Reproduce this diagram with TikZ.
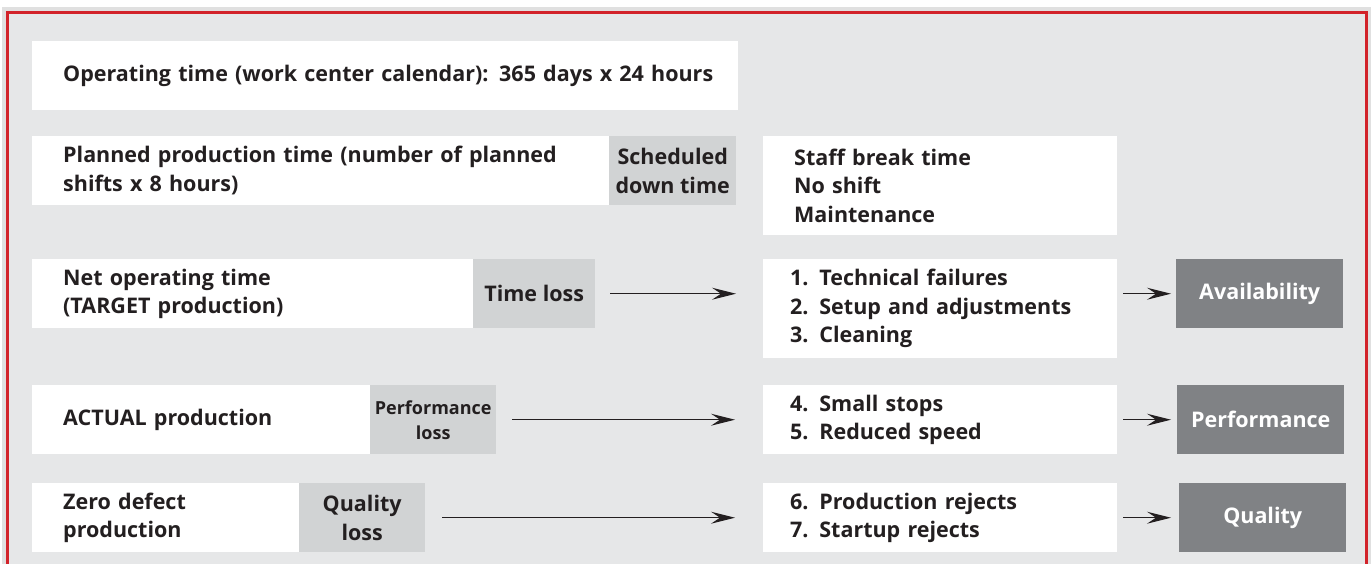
\documentclass[tikz,border=0pt]{standalone}
\usepackage{fontspec}
\setmainfont{Open Sans}
\usetikzlibrary{arrows.meta}
\definecolor{bgc}{HTML}{E6E7E8}
\definecolor{lgc}{HTML}{D1D3D4}
\definecolor{dgc}{HTML}{808285}
\definecolor{txc}{HTML}{231F20}
\definecolor{frc}{HTML}{D2232A}
\begin{document}
\begin{tikzpicture}[x=1pt,y=-1pt,
  every node/.style={font=\fontsize{21.5}{28.5}\selectfont\bfseries, text=txc, inner sep=0pt, anchor=north west},
  wbox/.style={fill=white, align=left, inner xsep=31pt},
  gbox/.style={fill=lgc, align=center},
  dbox/.style={fill=dgc, align=center, text=white},
  arr/.style={draw=txc, line width=1.2pt, -{Stealth[length=24pt,width=12pt,inset=9pt]}}]
\useasboundingbox (0,0) rectangle (1372,563);
% shadow and frame
\fill[black!25] (4,9) rectangle (1369,570);
\fill[black!12] (2,7) rectangle (1371,570);
\filldraw[fill=bgc, draw=frc, line width=3pt] (7,12) rectangle (1366,575);
% row 1
\node[wbox, minimum width=706pt, minimum height=69pt, text width=644pt] (op) at (32,41)
  {\mbox{Operating time (work center calendar): 365 days x 24 hours}};
% row 2
\node[wbox, minimum width=577pt, minimum height=69pt, text width=515pt] (plan) at (32,136)
  {Planned production time (number of planned\\shifts x 8 hours)};
\node[gbox, minimum width=127pt, minimum height=69pt] (sched) at (609,136) {Scheduled\\down time};
\node[wbox, minimum width=354pt, minimum height=99pt, text width=292pt] (staff) at (763,136)
  {Staff break time\\No shift\\Maintenance};
% row 3
\node[wbox, minimum width=441pt, minimum height=69pt, text width=379pt] (net) at (32,259)
  {Net operating time\\(TARGET production)};
\node[gbox, minimum width=122pt, minimum height=69pt] (tloss) at (473,259) {Time loss};
\node[wbox, minimum width=354pt, minimum height=99pt, text width=300pt, inner xsep=26pt] (tech) at (763,259)
  {1. Technical failures\\2. Setup and adjustments\\3. Cleaning};
\node[dbox, minimum width=167pt, minimum height=69pt] (avail) at (1176,259) {Availability};
% row 4
\node[wbox, minimum width=338pt, minimum height=69pt, text width=276pt] (actual) at (32,385)
  {ACTUAL production};
\node[gbox, minimum width=126pt, minimum height=69pt, font=\fontsize{18}{25}\selectfont\bfseries] (ploss) at (370,385) {Performance\\loss};
\node[wbox, minimum width=354pt, minimum height=69pt, text width=300pt, inner xsep=26pt] (stops) at (763,385)
  {4. Small stops\\5. Reduced speed};
\node[dbox, minimum width=167pt, minimum height=69pt] (perf) at (1177,385) {Performance};
% row 5
\node[wbox, minimum width=267pt, minimum height=69pt, text width=205pt] (zero) at (32,483)
  {Zero defect\\production};
\node[gbox, minimum width=126pt, minimum height=69pt] (qloss) at (299,483) {Quality\\loss};
\node[wbox, minimum width=354pt, minimum height=69pt, text width=300pt, inner xsep=26pt] (rej) at (763,483)
  {6. Production rejects\\7. Startup rejects};
\node[dbox, minimum width=167pt, minimum height=69pt] (qual) at (1179,483) {Quality};
% arrows
\draw[arr, shorten <=15pt, shorten >=27pt] (tloss.east) -- (tloss.east -| tech.west);
\draw[arr, shorten <=16pt, shorten >=28pt] (ploss.east) -- (ploss.east -| stops.west);
\draw[arr, shorten <=17pt, shorten >=28pt] (qloss.east) -- (qloss.east -| rej.west);
\draw[arr, shorten <=6pt, shorten >=5pt] (avail.west -| tech.east) -- (avail.west);
\draw[arr, shorten <=6pt, shorten >=6pt] (perf.west -| stops.east) -- (perf.west);
\draw[arr, shorten <=6pt, shorten >=8pt] (qual.west -| rej.east) -- (qual.west);
\end{tikzpicture}
\end{document}
